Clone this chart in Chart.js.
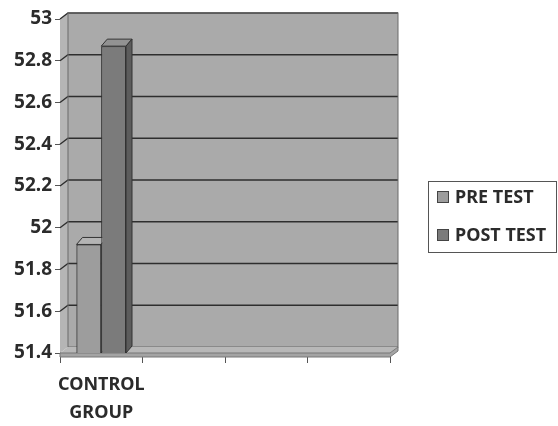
<!DOCTYPE html>
<html>
<head>
<meta charset="utf-8">
<script src="https://cdn.jsdelivr.net/npm/chart.js@4"></script>
<style>
  html, body { margin: 0; padding: 0; background: #fff; }
  #wrap { width: 558px; height: 426px; }
</style>
</head>
<body>
<div id="wrap"><canvas id="myChart" width="558" height="426"></canvas></div>
<script>
const categories = [["CONTROL", "GROUP"], "", "", ""];
const preTest = [51.92, null, null, null];
const postTest = [52.87, null, null, null];
const seriesNames = ["PRE TEST", "POST TEST"];

const FONT = "'Noto Sans', 'DejaVu Sans', sans-serif";
const TEXT = "#2b2b2b";
// depth of the back wall and of the bars
const WALL_DX = 8, WALL_DY = -6;
const BAR_DX = 6, BAR_DY = -7;

const faces = [
  { front: "#9d9d9d", top: "#b4b4b4", side: "#858585" },
  { front: "#7b7b7b", top: "#929292", side: "#5c5c5c" },
];

const walls3d = {
  id: "walls3d",
  beforeDatasetsDraw(chart) {
    const { ctx, chartArea: a, scales } = chart;
    const L = a.left, R = a.right, T = a.top, B = a.bottom;
    ctx.save();
    // back wall
    ctx.fillStyle = "#aaaaaa";
    ctx.fillRect(L + WALL_DX, T + WALL_DY, R - L, B - T);
    // left side wall
    ctx.fillStyle = "#b5b5b5";
    ctx.beginPath();
    ctx.moveTo(L, T);
    ctx.lineTo(L + WALL_DX, T + WALL_DY);
    ctx.lineTo(L + WALL_DX, B + WALL_DY);
    ctx.lineTo(L, B);
    ctx.closePath();
    ctx.fill();
    // gridlines
    ctx.strokeStyle = "#2e2e2e";
    ctx.lineWidth = 1.3;
    scales.y.ticks.forEach((t) => {
      const y = scales.y.getPixelForValue(t.value);
      if (t.value <= scales.y.min + 1e-6) return;
      ctx.beginPath();
      ctx.moveTo(L, y);
      ctx.lineTo(L + WALL_DX, y + WALL_DY);
      ctx.lineTo(R + WALL_DX, y + WALL_DY);
      ctx.stroke();
    });
    // wall outline
    ctx.strokeStyle = "#6a6a6a";
    ctx.lineWidth = 1;
    ctx.strokeRect(L + WALL_DX, T + WALL_DY, R - L, B - T);
    // floor slab
    ctx.fillStyle = "#b8b8b8";
    ctx.beginPath();
    ctx.moveTo(L, B);
    ctx.lineTo(L + WALL_DX, B + WALL_DY);
    ctx.lineTo(R + WALL_DX, B + WALL_DY);
    ctx.lineTo(R, B);
    ctx.closePath();
    ctx.fill();
    ctx.fillStyle = "#a4a4a4";
    ctx.beginPath();
    ctx.moveTo(L, B);
    ctx.lineTo(R, B);
    ctx.lineTo(R + WALL_DX, B + WALL_DY);
    ctx.lineTo(R + WALL_DX, B + WALL_DY + 4);
    ctx.lineTo(R, B + 4);
    ctx.lineTo(L, B + 4);
    ctx.closePath();
    ctx.fill();
    ctx.strokeStyle = "#777";
    ctx.stroke();
    ctx.restore();
  },
  afterDatasetsDraw(chart) {
    const { ctx, chartArea: a } = chart;
    ctx.save();
    ctx.beginPath();
    ctx.rect(a.left, 0, a.right - a.left + 20, a.bottom);
    ctx.clip();
    chart.data.datasets.forEach((ds, i) => {
      const meta = chart.getDatasetMeta(i);
      meta.data.forEach((bar, j) => {
        if (ds.data[j] == null) return;
        const { x, y, width } = bar.getProps(["x", "y", "width"], true);
        const base = Math.min(bar.base, a.bottom);
        const l = x - width / 2, r = x + width / 2;
        bar.draw(ctx);
        ctx.lineWidth = 1;
        ctx.strokeStyle = "#333";
        // top face
        ctx.fillStyle = faces[i].top;
        ctx.beginPath();
        ctx.moveTo(l, y);
        ctx.lineTo(l + BAR_DX, y + BAR_DY);
        ctx.lineTo(r + BAR_DX, y + BAR_DY);
        ctx.lineTo(r, y);
        ctx.closePath();
        ctx.fill();
        ctx.stroke();
        // right side face
        ctx.fillStyle = faces[i].side;
        ctx.beginPath();
        ctx.moveTo(r, y);
        ctx.lineTo(r + BAR_DX, y + BAR_DY);
        ctx.lineTo(r + BAR_DX, base + BAR_DY);
        ctx.lineTo(r, base);
        ctx.closePath();
        ctx.fill();
        ctx.stroke();
      });
    });
    ctx.restore();
  },
  afterDraw(chart) {
    const { ctx } = chart;
    ctx.save();
    ctx.fillStyle = "#fff";
    ctx.strokeStyle = "#555";
    ctx.lineWidth = 1;
    ctx.fillRect(428.5, 181.5, 128, 71);
    ctx.strokeRect(428.5, 181.5, 128, 71);
    ctx.font = "bold 18px " + FONT;
    ctx.textBaseline = "middle";
    const rows = [197, 235];
    chart.data.datasets.forEach((ds, i) => {
      ctx.fillStyle = faces[i].front;
      ctx.fillRect(437.5, rows[i] - 5.5, 11, 11);
      ctx.strokeStyle = "#444";
      ctx.strokeRect(437.5, rows[i] - 5.5, 11, 11);
      ctx.fillStyle = TEXT;
      ctx.fillText(ds.label, 455, rows[i] + 1);
    });
    ctx.restore();
  },
};

new Chart(document.getElementById("myChart").getContext("2d"), {
  type: "bar",
  data: {
    labels: categories,
    datasets: [
      {
        label: seriesNames[0],
        data: preTest,
        backgroundColor: faces[0].front,
        borderColor: "#333",
        borderWidth: 1,
      },
      {
        label: seriesNames[1],
        data: postTest,
        backgroundColor: faces[1].front,
        borderColor: "#333",
        borderWidth: 1,
      },
    ],
  },
  options: {
    responsive: false,
    animation: false,
    layout: { padding: { left: 0, top: 19, right: 168, bottom: 0 } },
    datasets: { bar: { categoryPercentage: 0.6, barPercentage: 1 } },
    plugins: { legend: { display: false }, tooltip: { enabled: false } },
    scales: {
      x: {
        afterFit: (s) => { s.height = 73; },
        border: { display: false },
        grid: { drawOnChartArea: false, tickLength: 10, color: "#555", offset: true },
        ticks: {
          color: TEXT,
          padding: 8,
          maxRotation: 0,
          autoSkip: false,
          font: { family: FONT, size: 18, weight: "bold", lineHeight: 1.55 },
        },
      },
      y: {
        min: 51.4,
        max: 53,
        afterFit: (s) => { s.width = 60; },
        border: { display: true, color: "#555" },
        grid: { drawOnChartArea: false, tickLength: 5, color: "#555" },
        ticks: {
          stepSize: 0.2,
          color: TEXT,
          padding: 3,
          font: { family: FONT, size: 19, weight: "bold" },
          callback: (v) => String(Number(v.toFixed(1))),
        },
      },
    },
  },
  plugins: [walls3d],
});
</script>
</body>
</html>
